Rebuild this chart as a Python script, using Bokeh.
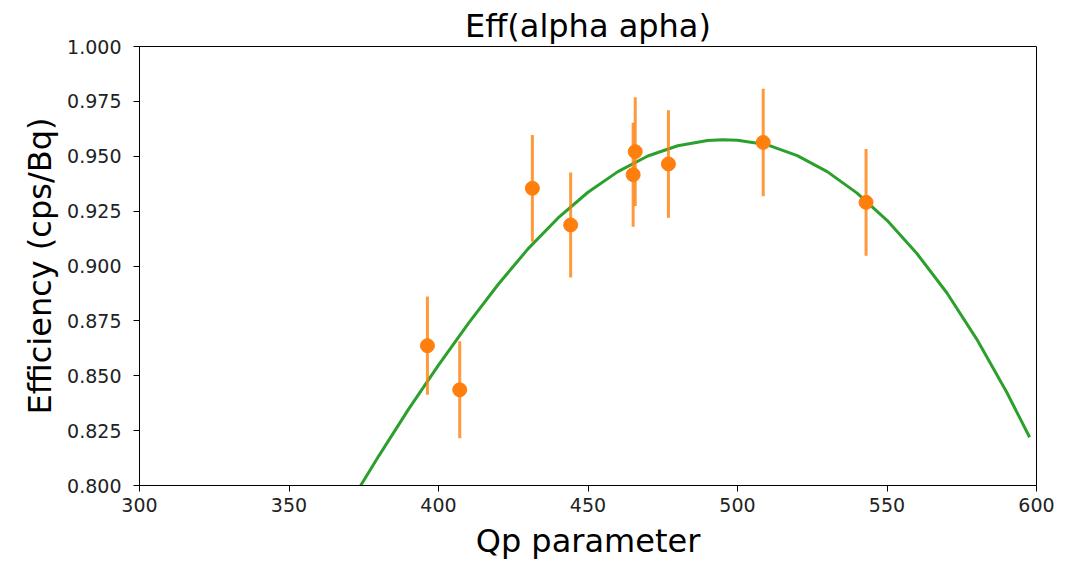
from bokeh.plotting import figure
from bokeh.models import Range1d, FixedTicker, NumeralTickFormatter, ColumnDataSource
from bokeh.embed import file_html
from bokeh.resources import INLINE

# Measured data points (Qp parameter, efficiency, error)
qp = [396.3, 407.1, 431.4, 444.2, 465.1, 465.8, 476.9, 508.6, 543.0]
eff = [0.8637, 0.8436, 0.9354, 0.9187, 0.9416, 0.9521, 0.9465, 0.9563, 0.9290]
err = [0.0224, 0.0221, 0.0243, 0.0239, 0.0237, 0.0248, 0.0245, 0.0245, 0.0243]

# Fitted curve
fit_qp = [372, 380, 390, 400, 410, 420, 430, 440, 450, 460, 470, 480, 490, 495,
          500, 510, 520, 530, 540, 550, 560, 570, 580, 590, 597.7]
fit_eff = [0.7956, 0.8134, 0.8348, 0.8548, 0.8739, 0.8917, 0.9079, 0.9219, 0.9336,
           0.9430, 0.9501, 0.9548, 0.9572, 0.9575, 0.9573, 0.9552, 0.9503, 0.9430,
           0.9332, 0.9208, 0.9057, 0.8878, 0.8667, 0.8426, 0.8220]

x_ticks = [300, 350, 400, 450, 500, 550, 600]
y_ticks = [0.800, 0.825, 0.850, 0.875, 0.900, 0.925, 0.950, 0.975, 1.000]

FONT = "DejaVu Sans"

p = figure(width=1061, height=562, output_backend="svg", toolbar_location=None,
           x_range=Range1d(300, 600), y_range=Range1d(0.8, 1.0),
           min_border_left=139, min_border_right=25, min_border_top=46, min_border_bottom=77)

p.title.text = "Eff(alpha apha)"
p.title.align = "center"
p.title.text_font = FONT
p.title.text_font_size = "32px"
p.title.text_font_style = "normal"
p.title.text_color = "black"
p.title.standoff = 4

p.xgrid.visible = False
p.ygrid.visible = False
p.outline_line_color = "black"
p.outline_line_width = 1
p.background_fill_color = "white"
p.border_fill_color = "white"

for ax in (p.xaxis, p.yaxis):
    ax.major_label_text_font = FONT
    ax.major_label_text_font_size = "19px"
    ax.major_label_text_color = "#222222"
    ax.axis_label_text_font = FONT
    ax.axis_label_text_font_size = "32px"
    ax.axis_label_text_font_style = "normal"
    ax.axis_label_text_color = "black"
    ax.minor_tick_line_color = None
    ax.major_tick_in = 0
    ax.major_tick_out = 6
    ax.axis_line_color = "black"
    ax.major_tick_line_color = "black"

p.xaxis.ticker = FixedTicker(ticks=x_ticks)
p.yaxis.ticker = FixedTicker(ticks=y_ticks)
p.yaxis.formatter = NumeralTickFormatter(format="0.000")
p.xaxis.axis_label = "Qp parameter"
p.yaxis.axis_label = "Efficiency (cps/Bq)"
p.yaxis.major_label_standoff = 12
p.xaxis.major_label_standoff = 6
p.yaxis.axis_label_standoff = 5
p.xaxis.axis_label_standoff = 7

# fitted curve
p.line(fit_qp, fit_eff, line_color="#2ca02c", line_width=3)

# error bars and points
lo = [e - s for e, s in zip(eff, err)]
hi = [e + s for e, s in zip(eff, err)]
src = ColumnDataSource(dict(x=qp, y=eff, lo=lo, hi=hi))
p.segment(x0="x", y0="lo", x1="x", y1="hi", source=src, line_color="#ff7f0e",
          line_alpha=0.8, line_width=3)
p.scatter(x="x", y="y", source=src, size=14, fill_color="#ff7f0e", line_color="#ff7f0e")

open("out.html", "w").write(file_html(p, INLINE))
